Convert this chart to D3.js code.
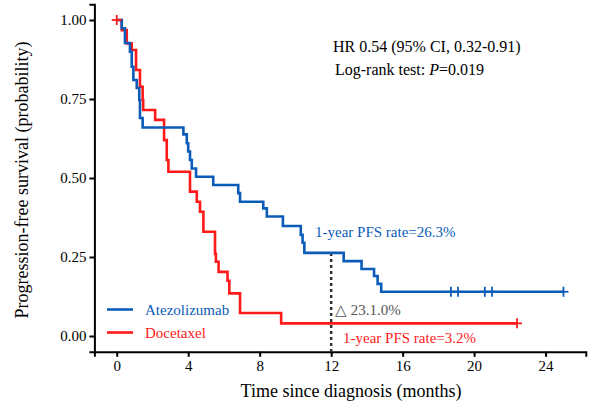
<!DOCTYPE html>
<html><head><meta charset="utf-8">
<script src="https://cdn.jsdelivr.net/npm/d3@7"></script>
<style>body{margin:0;background:#fff}svg{display:block}text{font-family:"Liberation Serif","Times New Roman",serif}</style>
</head><body><svg id="c" width="592" height="405"></svg>
<script>
// Atezolizumab KM steps: [time, survival]
const atezoTimes = [0,0.28,0.46,0.74,0.84,0.93,1.12,1.26,1.30,1.45,3.73,3.92,4.0,4.1,4.2,4.44,5.4,6.8,6.9,8.2,8.4,9.3,10.3,10.4,10.5,12.7,13.7,14.4,14.6,14.8];
const atezoSurv  = [1.0,0.974,0.927,0.90,0.852,0.81,0.785,0.747,0.69,0.66,0.638,0.61,0.584,0.557,0.53,0.504,0.478,0.452,0.425,0.404,0.378,0.348,0.32,0.295,0.263,0.237,0.212,0.19,0.165,0.14];
const atezoEnd = 25.0;
const atezoCensor = [18.7,19.1,20.6,21.0,25.0];
// Docetaxel KM steps
const doceTimes = [0,0.28,0.56,0.84,1.08,1.3,1.45,1.48,2.15,2.65,2.8,2.89,4.1,4.48,4.66,4.85,5.5,5.55,5.7,6.2,6.3,6.9,9.2];
const doceSurv  = [1.0,0.968,0.926,0.905,0.842,0.789,0.747,0.715,0.684,0.62,0.557,0.52,0.457,0.425,0.393,0.33,0.26,0.235,0.203,0.175,0.135,0.073,0.04];
const doceEnd = 22.4;
const doceCensor = [0,22.4];
const xTicks = [0,4,8,12,16,20,24];
const yTicks = [0,0.25,0.5,0.75,1.0];
const legendNames = ["Atezolizumab","Docetaxel"];
const colors = ["#0a5cb8","#ff1a1a"];

const svg = d3.select("#c");
const x = d3.scaleLinear().domain([-1.25,26.25]).range([94.4,585.8]);
const y = d3.scaleLinear().domain([-0.05,1.05]).range([351.8,4.2]);

const serif = '"Liberation Serif","Times New Roman",serif';

// axes
const xa = svg.append("g").attr("transform","translate(0,351.8)")
  .call(d3.axisBottom(x).tickValues(xTicks).tickSize(5).tickPadding(4).tickFormat(d3.format("d")));
const ya = svg.append("g").attr("transform","translate(94.4,0)")
  .call(d3.axisLeft(y).tickValues(yTicks).tickSize(5).tickPadding(3).tickFormat(d3.format(".2f")));
[xa,ya].forEach(a=>{
  a.select(".domain").attr("stroke","#000").attr("stroke-width",2);
  a.selectAll(".tick line").attr("stroke","#000").attr("stroke-width",2);
  a.selectAll(".tick text").attr("fill","#000").style("font-family",serif).style("font-size","15px");
});

// step curves
const line = d3.line().x(d=>x(d[0])).y(d=>y(d[1])).curve(d3.curveStepAfter);
function pts(ts, ss, end){ const p = ts.map((t,i)=>[t,ss[i]]); p.push([end, ss[ss.length-1]]); return p; }
function survAt(ts, ss, t){ let v = ss[0]; for(let i=0;i<ts.length;i++){ if(ts[i]<=t) v=ss[i]; } return v; }

// dashed line at 12 months
svg.append("line").attr("x1",x(12)).attr("x2",x(12))
  .attr("y1",y(survAt(atezoTimes,atezoSurv,12))).attr("y2",y(-0.05))
  .attr("stroke","#333").attr("stroke-width",2.5).attr("stroke-dasharray","3,3");

svg.append("path").attr("d",line(pts(doceTimes,doceSurv,doceEnd)))
  .attr("fill","none").attr("stroke",colors[1]).attr("stroke-width",2.6);
svg.append("path").attr("d",line(pts(atezoTimes,atezoSurv,atezoEnd)))
  .attr("fill","none").attr("stroke",colors[0]).attr("stroke-width",2.6);

function censor(times, ts, ss, col){
  times.forEach(t=>{
    const v = survAt(ts,ss,t);
    svg.append("line").attr("x1",x(t)).attr("x2",x(t)).attr("y1",y(v)-5).attr("y2",y(v)+5)
      .attr("stroke",col).attr("stroke-width",1.8);
    svg.append("line").attr("x1",x(t)-5).attr("x2",x(t)+5).attr("y1",y(v)).attr("y2",y(v))
      .attr("stroke",col).attr("stroke-width",1.8);
  });
}
censor(atezoCensor, atezoTimes, atezoSurv, colors[0]);
censor(doceCensor, doceTimes, doceSurv, colors[1]);

// legend
[0,1].forEach(i=>{
  const ly = 309.5 + i*23;
  svg.append("line").attr("x1",107).attr("x2",133).attr("y1",ly).attr("y2",ly)
    .attr("stroke",colors[i]).attr("stroke-width",2.6);
  svg.append("text").attr("x",145).attr("y",ly+5).attr("fill",colors[i])
    .style("font-size","15px").text(legendNames[i]);
});

// annotations
svg.append("text").attr("x",333).attr("y",52).style("font-size","16px").attr("fill","#000")
  .text("HR 0.54 (95% CI, 0.32-0.91)");
const t2 = svg.append("text").attr("x",335).attr("y",75).style("font-size","16px").attr("fill","#000");
t2.append("tspan").text("Log-rank test: ");
t2.append("tspan").style("font-style","italic").text("P");
t2.append("tspan").text("=0.019");

svg.append("text").attr("x",315).attr("y",237).style("font-size","15px").attr("fill",colors[0])
  .text("1-year PFS rate=26.3%");
svg.append("text").attr("x",343).attr("y",343).style("font-size","15px").attr("fill",colors[1])
  .text("1-year PFS rate=3.2%");
svg.append("text").attr("x",335).attr("y",315).style("font-size","15px").attr("fill","#555")
  .text("△ 23.1.0%");

// axis titles
svg.append("text").attr("x",351).attr("y",397).attr("text-anchor","middle")
  .style("font-size","18px").attr("fill","#000").text("Time since diagnosis (months)");
svg.append("text").attr("transform","translate(28,180) rotate(-90)").attr("text-anchor","middle")
  .style("font-size","18px").attr("fill","#000").text("Progression-free survival (probability)");
</script></body></html>
